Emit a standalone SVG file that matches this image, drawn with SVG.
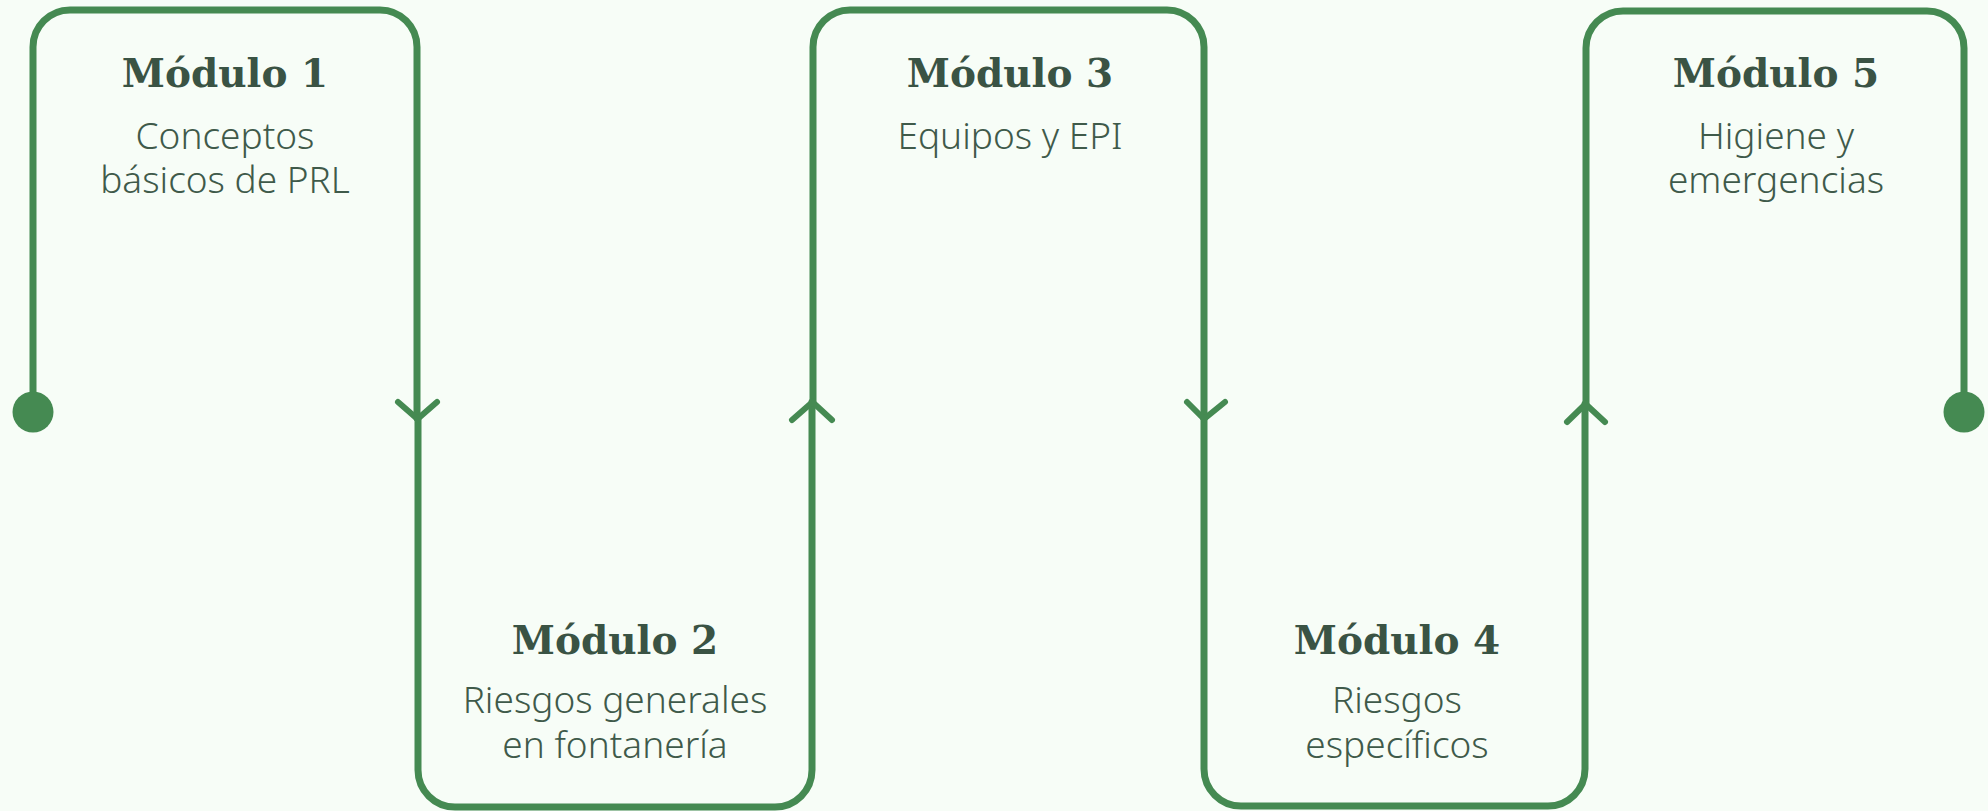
<svg xmlns="http://www.w3.org/2000/svg" width="1988" height="811" viewBox="0 0 1988 811">
<style>
.frame{fill:none;stroke:#458a52;stroke-width:7;stroke-linecap:round;stroke-linejoin:round}
.arrow{fill:none;stroke:#458a52;stroke-width:6;stroke-linecap:round;stroke-linejoin:miter}
.dot{fill:#458a52}
.h{font-family:"DejaVu Serif","Liberation Serif",serif;font-weight:bold;font-size:39px;fill:#3a5344;text-anchor:middle}
.b{font-family:"Noto Sans","Open Sans",sans-serif;font-weight:300;font-size:37px;fill:#3f5a4a;text-anchor:middle}
</style>
<rect x="0" y="0" width="1988" height="811" fill="#f7fdf7"/>
<g id="node1">
<path class="frame" d="M33,412 V47 A37,37 0 0 1 70,10 H380 A37,37 0 0 1 417,47 V418"/>
<text class="h" x="225" y="87">Módulo 1</text>
<text class="b" x="225" y="149">Conceptos<tspan x="225" dy="44">básicos de PRL</tspan></text>
</g>
<g id="node2">
<path class="frame" d="M418,418 V770 A37,37 0 0 0 455,807 H775 A37,37 0 0 0 812,770 V402"/>
<text class="h" x="615" y="654">Módulo 2</text>
<text class="b" x="615" y="713">Riesgos generales<tspan x="615" dy="45">en fontanería</tspan></text>
</g>
<g id="node3">
<path class="frame" d="M813,402 V47 A37,37 0 0 1 850,10 H1167 A37,37 0 0 1 1204,47 V418"/>
<text class="h" x="1010" y="87">Módulo 3</text>
<text class="b" x="1010" y="149">Equipos y EPI</text>
</g>
<g id="node4">
<path class="frame" d="M1204,418 V769 A37,37 0 0 0 1241,806 H1548 A37,37 0 0 0 1585,769 V404"/>
<text class="h" x="1397" y="654">Módulo 4</text>
<text class="b" x="1397" y="713">Riesgos<tspan x="1397" dy="45">específicos</tspan></text>
</g>
<g id="node5">
<path class="frame" d="M1586,404 V48 A37,37 0 0 1 1623,11 H1927 A37,37 0 0 1 1964,48 V412"/>
<text class="h" x="1776" y="87">Módulo 5</text>
<text class="b" x="1776" y="149">Higiene y<tspan x="1776" dy="44">emergencias</tspan></text>
</g>
<g id="connectors">
<circle class="dot" cx="33" cy="412" r="20.5"/>
<path class="arrow" d="M398,402 L417.5,419 L437,402"/>
<path class="arrow" d="M792,420 L812.5,402 L832,420"/>
<path class="arrow" d="M1187,402 L1204,419 L1225,402"/>
<path class="arrow" d="M1567,422 L1585.5,404 L1605,422"/>
<circle class="dot" cx="1964" cy="412" r="20.5"/>
</g>
</svg>
